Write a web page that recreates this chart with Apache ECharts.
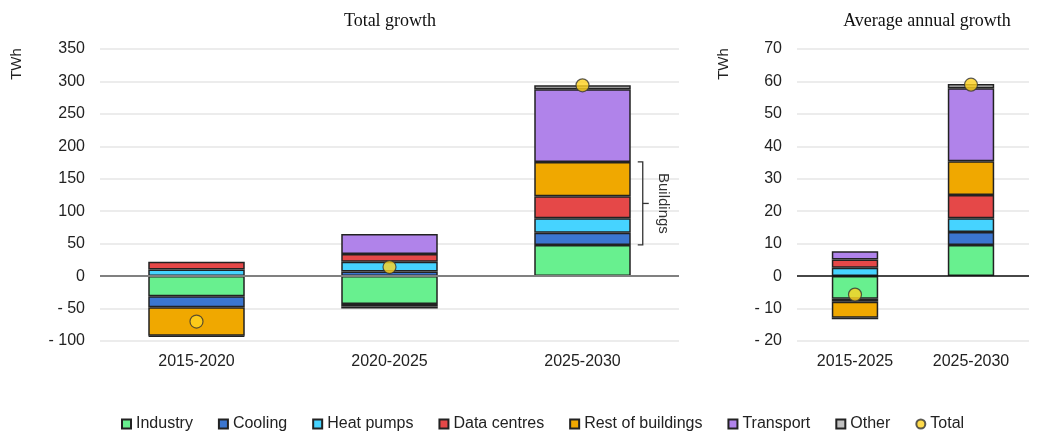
<!DOCTYPE html>
<html>
<head>
<meta charset="utf-8">
<script src="https://cdn.jsdelivr.net/npm/echarts@6/dist/echarts.min.js"></script>
<style>
html, body { margin: 0; padding: 0; background: #fff; }
#chart { width: 1037px; height: 432px; }
</style>
</head>
<body>
<div id="chart"></div>
<script>
// left panel: total growth (TWh)
const categoriesL = ['2015-2020', '2020-2025', '2025-2030']
const industryL = [-31, -43, 48]
const coolingL = [-17, 7, 19]
const heatPumpsL = [10, 15, 22]
const dataCentresL = [12, 12, 34]
const restL = [-44, -4, 53]
const transportL = [null, 31, 112]
const otherL = [-1, -3, 6]
const totalL = [-70, 14, 294]
const ticksL = { min: -100, max: 350, interval: 50 }

// right panel: average annual growth (TWh)
const categoriesR = ['2015-2025', '2025-2030']
const industryR = [-7, 9.6]
const coolingR = [-0.9, 4]
const heatPumpsR = [2.6, 4.2]
const dataCentresR = [2.5, 7.2]
const restR = [-4.9, 10.4]
const transportR = [2.6, 22.5]
const otherR = [-0.5, 1.3]
const totalR = [-5.7, 59]
const ticksR = { min: -20, max: 70, interval: 10 }

const names = ['Industry', 'Cooling', 'Heat pumps', 'Data centres', 'Rest of buildings', 'Transport', 'Other']
const colors = ['#68f08f', '#3b76d0', '#46d3ff', '#e54848', '#f0a800', '#b083ea', '#c0c0c0']
const seriesL = [industryL, coolingL, heatPumpsL, dataCentresL, restL, transportL, otherL]
const seriesR = [industryR, coolingR, heatPumpsR, dataCentresR, restR, transportR, otherR]

// buildings bracket on the 2025-2030 bar (cooling .. rest of buildings)
const bldLow = industryL[2]
const bldHigh = industryL[2] + coolingL[2] + heatPumpsL[2] + dataCentresL[2] + restL[2]

const FONT = "'Liberation Sans', Arial, sans-serif"
const SERIF = "'Liberation Serif', 'DejaVu Serif', serif"

const chart = echarts.init(document.getElementById('chart'))

function yLabel(v) {
  return v < 0 ? '- ' + Math.abs(v) : String(v)
}

function yAxis(idx, t) {
  return {
    type: 'value',
    gridIndex: idx,
    min: t.min,
    max: t.max,
    interval: t.interval,
    axisLine: { show: false },
    axisTick: { show: false },
    axisLabel: { formatter: yLabel, color: '#222', fontSize: 16, fontFamily: FONT, margin: 15 },
    splitLine: { lineStyle: { color: '#e6e6e6', width: 1.5 } },
  }
}

function xAxis(idx, cats) {
  return {
    type: 'category',
    gridIndex: idx,
    data: cats,
    axisLine: { show: false },
    axisTick: { show: false },
    axisLabel: { color: '#222', fontSize: 16, fontFamily: FONT, margin: 13 },
  }
}

const series = []
names.forEach((n, i) => {
  series.push({
    name: n,
    type: 'bar',
    xAxisIndex: 0,
    yAxisIndex: 0,
    stack: 'L',
    barWidth: '50%',
    itemStyle: { color: colors[i], borderColor: '#222', borderWidth: 1.5 },
    data: seriesL[i],
    markLine: i === 0 ? {
      silent: true,
      symbol: 'none',
      label: { show: false },
      lineStyle: { color: '#808080', width: 2, type: 'solid' },
      data: [{ yAxis: 0 }],
    } : undefined,
  })
  series.push({
    name: n,
    type: 'bar',
    xAxisIndex: 1,
    yAxisIndex: 1,
    stack: 'R',
    barWidth: '40%',
    itemStyle: { color: colors[i], borderColor: '#222', borderWidth: 1.5 },
    data: seriesR[i],
    markLine: i === 0 ? {
      silent: true,
      symbol: 'none',
      label: { show: false },
      lineStyle: { color: '#111', width: 1.5, type: 'solid' },
      data: [{ yAxis: 0 }],
    } : undefined,
  })
})

const totalStyle = { color: '#ffd21f', borderColor: '#333', borderWidth: 1.2 }
series.push({
  name: 'Total', type: 'scatter', xAxisIndex: 0, yAxisIndex: 0,
  symbolSize: 13, itemStyle: totalStyle, data: totalL, z: 5,
})
series.push({
  name: 'Total', type: 'scatter', xAxisIndex: 1, yAxisIndex: 1,
  symbolSize: 13, itemStyle: totalStyle, data: totalR, z: 5,
})

// bracket + "Buildings" label
series.push({
  type: 'custom',
  xAxisIndex: 0,
  yAxisIndex: 0,
  silent: true,
  z: 6,
  data: [[2, bldLow, bldHigh]],
  renderItem(params, api) {
    const top = api.coord([api.value(0), api.value(2)])
    const bot = api.coord([api.value(0), api.value(1)])
    const bw = api.size([1, 0])[0]
    const x = top[0] + bw * 0.25 + 12
    const mid = (top[1] + bot[1]) / 2
    const ls = { stroke: '#333', lineWidth: 1.3, fill: null }
    return {
      type: 'group',
      children: [
        { type: 'polyline', shape: { points: [[x - 5, top[1]], [x, top[1]], [x, bot[1]], [x - 5, bot[1]]] }, style: ls },
        { type: 'line', shape: { x1: x, y1: mid, x2: x + 6, y2: mid }, style: ls },
        {
          type: 'text',
          x: x + 20,
          y: mid,
          rotation: -Math.PI / 2,
          style: { text: 'Buildings', fill: '#333', font: '15px ' + FONT, align: 'center', verticalAlign: 'middle' },
        },
      ],
    }
  },
})

const option = {
  animation: false,
  backgroundColor: '#fff',
  title: [
    {
      text: 'Total growth', left: 385, top: 7, textAlign: 'center',
      textStyle: { fontFamily: SERIF, fontSize: 18, fontWeight: 'normal', color: '#111' },
    },
    {
      text: 'Average annual growth', left: 922, top: 7, textAlign: 'center',
      textStyle: { fontFamily: SERIF, fontSize: 18, fontWeight: 'normal', color: '#111' },
    },
  ],
  graphic: [
    { type: 'text', x: 17, y: 64, rotation: Math.PI / 2, style: { text: 'TWh', fill: '#222', font: '15px ' + FONT, align: 'center', verticalAlign: 'middle' } },
    { type: 'text', x: 724, y: 64, rotation: Math.PI / 2, style: { text: 'TWh', fill: '#222', font: '15px ' + FONT, align: 'center', verticalAlign: 'middle' } },
  ],
  legend: {
    left: 116,
    top: 411,
    itemWidth: 9,
    itemHeight: 9,
    itemGap: 25,
    textStyle: { fontSize: 16, fontFamily: FONT, color: '#222' },
    data: names.map(n => ({ name: n, icon: 'rect' })).concat([{ name: 'Total', icon: 'circle' }]),
  },
  grid: [
    { left: 100, top: 49, width: 579, bottom: 91 },
    { left: 797, top: 49, width: 232, bottom: 91 },
  ],
  xAxis: [xAxis(0, categoriesL), xAxis(1, categoriesR)],
  yAxis: [yAxis(0, ticksL), yAxis(1, ticksR)],
  series,
}

chart.setOption(option)
</script>
</body>
</html>
